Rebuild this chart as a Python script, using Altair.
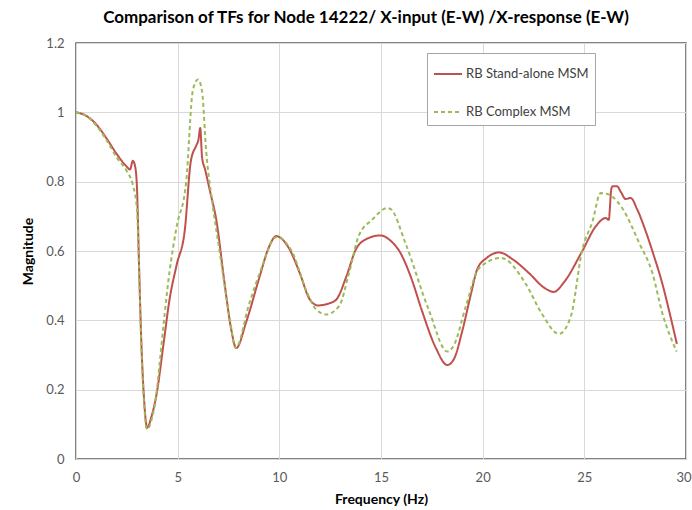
import altair as alt
import pandas as pd

# Series 1: RB Stand-alone MSM
freq_sa = [0, 0.5, 1.0, 1.5, 2.0, 2.5, 2.65, 2.8, 2.92, 3.0, 3.1, 3.2, 3.35, 3.5, 3.7,
           4.0, 4.3, 4.6, 4.95, 5.35, 5.65, 5.92, 6.02, 6.11, 6.2, 6.35, 6.6, 6.9, 7.3,
           7.63, 7.88, 8.37, 9.0, 9.5, 9.84, 10.5, 11.0, 11.5, 11.9, 12.4, 12.8, 13.3,
           13.76, 14.3, 14.98, 15.5, 15.9, 16.5, 17.0, 17.7, 18.26, 18.6, 19.0, 19.4,
           19.75, 20.2, 20.8, 21.5, 22.3, 23.0, 23.5, 24.0, 24.9, 25.55, 26.05, 26.2,
           26.33, 26.4, 26.6, 26.8, 27.03, 27.28, 27.6, 28.0, 28.4, 28.84, 29.2, 29.55]
mag_sa = [1.0, 0.99, 0.965, 0.925, 0.88, 0.843, 0.835, 0.86, 0.84, 0.78, 0.56, 0.36, 0.17,
          0.09, 0.12, 0.2, 0.33, 0.46, 0.56, 0.66, 0.86, 0.905, 0.92, 0.955, 0.87, 0.835,
          0.77, 0.69, 0.51, 0.375, 0.32, 0.395, 0.52, 0.613, 0.643, 0.605, 0.537, 0.46,
          0.443, 0.448, 0.46, 0.527, 0.604, 0.635, 0.645, 0.628, 0.6, 0.52, 0.43, 0.32,
          0.271, 0.29, 0.37, 0.47, 0.55, 0.58, 0.596, 0.575, 0.535, 0.495, 0.482, 0.51,
          0.6, 0.67, 0.695, 0.69, 0.78, 0.787, 0.787, 0.77, 0.75, 0.753, 0.72, 0.66, 0.59,
          0.505, 0.42, 0.332]

# Series 2: RB Complex MSM
freq_cx = [0, 0.5, 1.0, 1.5, 2.0, 2.5, 2.8, 3.0, 3.1, 3.2, 3.35, 3.5, 3.7, 4.0, 4.12,
           4.6, 4.94, 5.42, 5.75, 6.0, 6.2, 6.4, 6.73, 7.06, 7.55, 7.85, 8.53, 9.1,
           9.84, 10.65, 11.3, 11.8, 12.29, 12.94, 13.43, 13.9, 14.56, 15.31, 15.5, 16.2,
           17.35, 18.26, 18.6, 19.17, 19.82, 20.9, 22.1, 22.9, 23.75, 24.33, 24.9, 25.4,
           25.8, 26.1, 26.37, 26.86, 27.7, 28.35, 28.84, 29.54]
mag_cx = [1.0, 0.99, 0.962, 0.92, 0.87, 0.83, 0.79, 0.72, 0.55, 0.35, 0.16, 0.085, 0.11,
          0.21, 0.28, 0.54, 0.667, 0.80, 1.065, 1.095, 1.06, 0.89, 0.729, 0.6, 0.41,
          0.32, 0.45, 0.547, 0.64, 0.595, 0.489, 0.432, 0.417, 0.441, 0.537, 0.643, 0.69,
          0.724, 0.72, 0.623, 0.43, 0.31, 0.33, 0.44, 0.55, 0.58, 0.507, 0.42, 0.361,
          0.41, 0.604, 0.685, 0.767, 0.765, 0.757, 0.724, 0.623, 0.536, 0.42, 0.31]

series_names = ["RB Stand-alone MSM", "RB Complex MSM"]
series_colors = ["#C0504D", "#9BBB59"]

df = pd.concat([
    pd.DataFrame({"freq": freq_sa, "mag": mag_sa, "series": series_names[0], "order": range(len(freq_sa))}),
    pd.DataFrame({"freq": freq_cx, "mag": mag_cx, "series": series_names[1], "order": range(len(freq_cx))}),
])

FONT = "Lato"

chart = alt.Chart(df).mark_line(interpolate="monotone", strokeWidth=2).encode(
    x=alt.X("freq:Q", title="Frequency (Hz)",
            scale=alt.Scale(domain=[0, 30], nice=False),
            axis=alt.Axis(values=[0, 5, 10, 15, 20, 25, 30], format="~g", labelFlush=False,
                          labelAlign=alt.expr("datum.value === 30 ? 'right' : 'center'"),
                          labelOffset=alt.expr("datum.value === 30 ? 5 : 0"))),
    y=alt.Y("mag:Q", title="Magnitude",
            scale=alt.Scale(domain=[0, 1.2], nice=False),
            axis=alt.Axis(values=[0, 0.2, 0.4, 0.6, 0.8, 1.0, 1.2], format="~g", labelFlush=False)),
    color=alt.Color("series:N",
                    scale=alt.Scale(domain=series_names, range=series_colors),
                    legend=alt.Legend(title=None, orient="none", legendX=351, legendY=10,
                                      symbolType="stroke", symbolSize=784, symbolStrokeWidth=2,
                                      labelFont=FONT, labelFontSize=13, labelColor="#404040",
                                      rowPadding=16, padding=6, strokeColor="#a6a6a6",
                                      fillColor="white", labelOffset=3)),
    strokeDash=alt.StrokeDash("series:N",
                              scale=alt.Scale(domain=series_names, range=[[1, 0], [4, 3]]),
                              legend=None),
    order="order:Q",
).properties(
    width=610, height=416,
    title=alt.TitleParams("Comparison of TFs for Node 14222/ X-input (E-W) /X-response (E-W)",
                          font=FONT, fontSize=17, fontWeight="bold", color="#000000",
                          anchor="middle", offset=10, dx=-15),
    autosize=alt.AutoSizeParams(type="none"),
    padding={"left": 76, "top": 43, "right": 6, "bottom": 51},
).configure_view(
    stroke="#595959", strokeWidth=1.5
).configure_axis(
    grid=True, gridColor="#d9d9d9", gridWidth=1, domain=False, ticks=False,
    labelFont=FONT, labelFontSize=13, labelColor="#595959",
    titleFont=FONT, titleFontSize=14, titleFontWeight="bold", titleColor="#000000",
).configure_axisX(titlePadding=8, labelPadding=12).configure_axisY(titlePadding=10, labelPadding=12)

chart.save("out.html", embed_options={"renderer": "svg", "actions": False})
